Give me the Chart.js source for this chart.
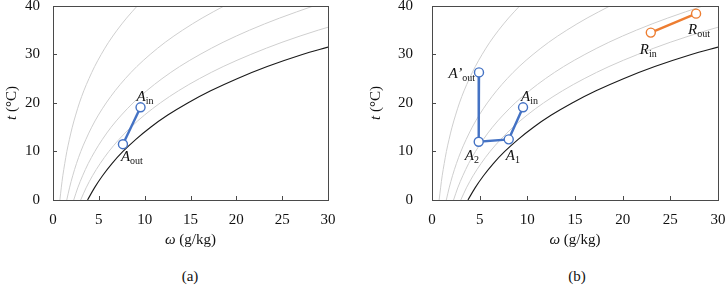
<!DOCTYPE html>
<html>
<head>
<meta charset="utf-8">
<script src="https://cdn.jsdelivr.net/npm/chart.js@4.4.1/dist/chart.umd.min.js"></script>
<style>
    body {margin: 0; background: #fff; width: 726px; height: 287px; overflow: hidden; position: relative;
        font-family: "Liberation Serif", "Times New Roman", serif;}
    canvas {position: absolute; top: 0;}
    #chart-a {left: 0;}
    #chart-b {left: 363px;}
    .caption {position: absolute; top: 268px; font-size: 15px; color: #111; transform: translateX(-50%);}
</style>
</head>
<body>
<canvas id="chart-a" width="363" height="260"></canvas>
<canvas id="chart-b" width="363" height="260"></canvas>
<div class="caption" style="left:190px">(a)</div>
<div class="caption" style="left:577px">(b)</div>
<script>
    // saturation curve (100 %), omega g/kg vs t °C
    const satT = [0, 2.5, 5, 7.5, 10, 12.5, 15, 17.5, 20, 22.5, 25, 27.5, 30, 31.5];
    const satW = [3.77, 4.52, 5.40, 6.43, 7.63, 9.04, 10.65, 12.52, 14.70, 17.20, 20.08, 23.37, 27.20, 30];

    // relative humidity curves 20 / 40 / 60 / 80 %
    const rhT = [0, 2.5, 5, 7.5, 10, 12.5, 15, 17.5, 20, 22.5, 25, 27.5, 30, 32.5, 35, 37.5, 40];
    const rh20W = [0.75, 0.90, 1.07, 1.28, 1.51, 1.79, 2.10, 2.47, 2.88, 3.36, 3.92, 4.54, 5.26, 6.06, 6.99, 8.03, 9.20];
    const rh40W = [1.50, 1.80, 2.15, 2.56, 3.03, 3.59, 4.22, 4.95, 5.80, 6.77, 7.88, 9.14, 10.60, 12.24, 14.14, 16.27, 18.68];
    const rh60W = [2.26, 2.70, 3.23, 3.84, 4.56, 5.39, 6.34, 7.46, 8.73, 10.21, 11.89, 13.81, 16.04, 18.55, 21.44, 24.73, 28.44];
    const rh80T = [0, 2.5, 5, 7.5, 10, 12.5, 15, 17.5, 20, 22.5, 25, 27.5, 30, 32.5, 35, 35.6];
    const rh80W = [3.02, 3.61, 4.31, 5.14, 6.09, 7.21, 8.49, 9.98, 11.70, 13.68, 15.96, 18.56, 21.58, 24.98, 28.93, 30];

    // (a) air path
    const aW = [9.55, 7.63];
    const aT = [19.1, 11.5];
    const aNames = [['A', 'in'], ['A', 'out']];

    // (b) air path and regeneration path
    const bW = [4.93, 4.90, 8.05, 9.55];
    const bT = [26.3, 12.0, 12.5, 19.1];
    const bNames = [['A\u2019', 'out'], ['A', '2'], ['A', '1'], ['A', 'in']];
    const rW = [22.95, 27.7];
    const rT = [34.5, 38.4];
    const rNames = [['R', 'in'], ['R', 'out']];

    const FONT = '"Liberation Serif"';
    const BLUE = '#4472c4';
    const ORANGE = '#ed7d31';

    function pts(ws, ts) {
        return ws.map((w, i) => ({x: w, y: ts[i]}));
    }

    function drawParts(ctx, parts, x, y, align) {
        let w = 0;
        parts.forEach(p => {
            ctx.font = p.f;
            w += ctx.measureText(p.t).width;
        });
        let cx = align === 'right' ? x - w : (align === 'center' ? x - w / 2 : x);
        ctx.textAlign = 'left';
        parts.forEach(p => {
            ctx.font = p.f;
            ctx.fillText(p.t, cx, y + (p.dy || 0));
            cx += ctx.measureText(p.t).width;
        });
    }

    function labelParts(name) {
        return [
            {t: name[0], f: 'italic 15px ' + FONT},
            {t: name[1], f: '10px ' + FONT, dy: 3}
        ];
    }

    const framePlugin = {
        id: 'frame',
        afterDraw(chart) {
            const ctx = chart.ctx;
            const a = chart.chartArea;
            const xs = chart.scales.x, ys = chart.scales.y;
            ctx.save();
            ctx.strokeStyle = '#4a4a4a';
            ctx.lineWidth = 1;
            ctx.strokeRect(Math.round(a.left) + 0.5, Math.round(a.top) + 0.5,
                Math.round(a.right - a.left), Math.round(a.bottom - a.top));
            ctx.beginPath();
            xs.ticks.forEach(tk => {
                const px = Math.round(xs.getPixelForValue(tk.value)) + 0.5;
                ctx.moveTo(px, a.bottom);
                ctx.lineTo(px, a.bottom - 4);
            });
            ys.ticks.forEach(tk => {
                const py = Math.round(ys.getPixelForValue(tk.value)) + 0.5;
                ctx.moveTo(a.left, py);
                ctx.lineTo(a.left + 4, py);
            });
            ctx.stroke();

            // axis titles
            ctx.fillStyle = '#111';
            ctx.textBaseline = 'alphabetic';
            drawParts(ctx, [
                {t: '\u03c9', f: 'italic 15px ' + FONT},
                {t: ' (g/kg)', f: '15px ' + FONT}
            ], (a.left + a.right) / 2, 244, 'center');
            ctx.translate(chart.options.yTitleX, (a.top + a.bottom) / 2);
            ctx.rotate(-Math.PI / 2);
            drawParts(ctx, [
                {t: 't', f: 'italic 15px ' + FONT},
                {t: ' (\u00b0C)', f: '15px ' + FONT}
            ], 0, 5, 'center');
            ctx.restore();

            // point labels
            ctx.save();
            ctx.fillStyle = '#111';
            ctx.textBaseline = 'alphabetic';
            (chart.options.pointLabels || []).forEach(l => {
                const px = xs.getPixelForValue(l.w);
                const py = ys.getPixelForValue(l.t);
                drawParts(ctx, labelParts(l.name), px + l.dx, py + l.dy, l.align);
            });
            ctx.restore();
        }
    };

    function curveSets() {
        const base = {
            showLine: true, pointRadius: 0, borderWidth: 1, borderColor: '#cfcfcf',
            cubicInterpolationMode: 'monotone', order: 5
        };
        return [
            Object.assign({}, base, {data: pts(satW, satT), borderColor: '#1a1a1a', borderWidth: 1.1, order: 4}),
            Object.assign({}, base, {data: pts(rh80W, rh80T)}),
            Object.assign({}, base, {data: pts(rh60W, rhT)}),
            Object.assign({}, base, {data: pts(rh40W, rhT)}),
            Object.assign({}, base, {data: pts(rh20W, rhT)})
        ];
    }

    function pathSet(ws, ts, color) {
        return {
            data: pts(ws, ts), showLine: true, borderColor: color, borderWidth: 2.4, tension: 0,
            pointRadius: 4.5, pointBackgroundColor: '#fff', pointBorderColor: color, pointBorderWidth: 1.4,
            order: 0
        };
    }

    function makeChart(id, paths, labels, yWidth, yPad, padRight, yTitleX) {
        const tickFont = {family: FONT, size: 15};
        return new Chart(document.getElementById(id), {
            type: 'scatter',
            data: {datasets: paths.concat(curveSets())},
            options: {
                responsive: false,
                animation: false,
                yTitleX: yTitleX,
                pointLabels: labels,
                layout: {padding: {left: 0, right: padRight, top: 5, bottom: 20}},
                plugins: {legend: {display: false}, tooltip: {enabled: false}},
                scales: {
                    x: {
                        type: 'linear', min: 0, max: 30,
                        ticks: {stepSize: 5, padding: 11, color: '#111', font: tickFont},
                        grid: {display: false, drawTicks: false},
                        border: {display: false},
                        afterFit: s => {
                            s.height = 40;
                            s.paddingLeft = 0;
                            s.paddingRight = 0;
                        }
                    },
                    y: {
                        type: 'linear', min: 0, max: 40,
                        ticks: {stepSize: 10, padding: yPad, color: '#111', font: tickFont},
                        grid: {display: false, drawTicks: false},
                        border: {display: false},
                        afterFit: s => {
                            s.width = yWidth;
                            s.paddingTop = 0;
                            s.paddingBottom = 0;
                        }
                    }
                }
            },
            plugins: [framePlugin]
        });
    }

    function drawAll() {
        // (a)
        makeChart('chart-a', [pathSet(aW, aT, BLUE)], [
            {w: aW[0], t: aT[0], name: aNames[0], dx: -4, dy: -6, align: 'left'},
            {w: aW[1], t: aT[1], name: aNames[1], dx: -2, dy: 17, align: 'left'}
        ], 53, 13, 35, 11);

        // (b)
        makeChart('chart-b', [pathSet(bW, bT, BLUE), pathSet(rW, rT, ORANGE)], [
            {w: bW[0], t: bT[0], name: bNames[0], dx: -4, dy: 6, align: 'right'},
            {w: bW[1], t: bT[1], name: bNames[1], dx: -14, dy: 18, align: 'left'},
            {w: bW[2], t: bT[2], name: bNames[2], dx: -3, dy: 21, align: 'left'},
            {w: bW[3], t: bT[3], name: bNames[3], dx: -2, dy: -6, align: 'left'},
            {w: rW[0], t: rT[0], name: rNames[0], dx: -11, dy: 21, align: 'left'},
            {w: rW[1], t: rT[1], name: rNames[1], dx: -8, dy: 20, align: 'left'}
        ], 69, 19, 8, 12);
    }

    Promise.all([
        document.fonts.load('15px "Liberation Serif"'),
        document.fonts.load('italic 15px "Liberation Serif"')
    ]).then(drawAll, drawAll);
</script>
</body>
</html>
